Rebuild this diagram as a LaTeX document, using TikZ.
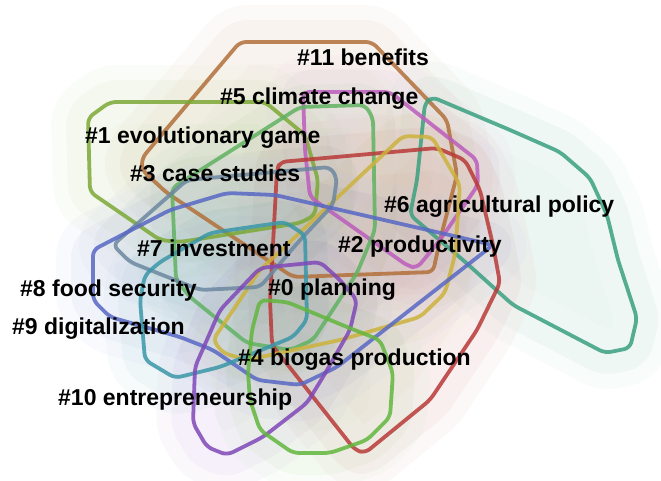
\documentclass[tikz,border=0pt]{standalone}
\usepackage{fontspec}
\setmainfont{Liberation Sans}
\usetikzlibrary{backgrounds}

% cluster colours
\definecolor{cBrown}{RGB}{178,112,58}
\definecolor{cOlive}{RGB}{124,168,54}
\definecolor{cGreen}{RGB}{96,178,98}
\definecolor{cMagenta}{RGB}{188,92,188}
\definecolor{cTeal}{RGB}{58,160,128}
\definecolor{cRed}{RGB}{184,58,56}
\definecolor{cYellow}{RGB}{204,178,60}
\definecolor{cSlate}{RGB}{108,136,160}
\definecolor{cBlue}{RGB}{88,104,196}
\definecolor{cCyan}{RGB}{58,150,168}
\definecolor{cPurple}{RGB}{128,72,184}
\definecolor{cLeaf}{RGB}{98,182,62}

\tikzset{
	hull/.style={draw=#1, line width=3.8pt, rounded corners=6pt, line join=round, draw opacity=0.85},
	halo/.style={draw=#1!35!white, fill=#1, line width=74pt, rounded corners=7pt, line join=round},
	core/.style={draw=#1!80!white, fill=#1, line width=44pt, rounded corners=7pt, line join=round},
	lbl/.style={font=\bfseries\fontsize{23}{23}\selectfont, anchor=base west, inner sep=0pt, text=black},
	% outlines of the clusters
	h0/.style={insert path={(403,136) -- (432,137) -- (460,185) -- (455,255) -- (445,293) -- (420,317) -- (340,340) -- (247,360) -- (223,353) -- (213,340) -- (260,270) -- cycle}},
	h1/.style={insert path={(110,102) -- (265,102) -- (305,135) -- (318,180) -- (315,215) -- (300,223) -- (180,242) -- (160,240) -- (90,192) -- (88,118) -- cycle}},
	h2/.style={insert path={(280,162) -- (437,148) -- (465,160) -- (480,190) -- (493,245) -- (500,283) -- (477,330) -- (430,400) -- (365,453) -- (355,450) -- (272,345) -- (270,300) -- (277,170) -- cycle}},
	h3/.style={insert path={(187,180) -- (330,167) -- (337,178) -- (333,205) -- (300,240) -- (260,287) -- (200,290) -- (130,262) -- (113,245) -- cycle}},
	h4/.style={insert path={(260,300) -- (287,302) -- (347,327) -- (380,340) -- (393,373) -- (390,417) -- (367,440) -- (330,453) -- (293,453) -- (260,430) -- (250,400) -- (248,373) -- (252,330) -- cycle}},
	h5/.style={insert path={(172,188) -- (300,107) -- (365,105) -- (373,118) -- (375,230) -- (357,273) -- (313,340) -- (290,350) -- (247,343) -- (190,297) -- (176,280) -- cycle}},
	h6/.style={insert path={(432,97) -- (510,130) -- (560,152) -- (590,178) -- (607,215) -- (618,260) -- (637,318) -- (630,348) -- (605,353) -- (513,305) -- (463,260) -- (410,215) -- (417,180) -- (425,103) -- cycle}},
	h7/.style={insert path={(303,92) -- (390,92) -- (477,160) -- (478,185) -- (440,240) -- (417,268) -- (408,266) -- (310,197) -- (305,150) -- cycle}},
	h8/.style={insert path={(93,250) -- (170,210) -- (227,193) -- (275,195) -- (493,245) -- (337,367) -- (300,385) -- (257,380) -- (213,350) -- (180,337) -- (110,317) -- (93,300) -- cycle}},
	h9/.style={insert path={(160,262) -- (210,233) -- (285,222) -- (305,235) -- (307,320) -- (293,337) -- (220,367) -- (175,378) -- (145,360) -- (140,300) -- (145,275) -- cycle}},
	h10/.style={insert path={(260,268) -- (320,262) -- (340,280) -- (357,300) -- (350,330) -- (323,377) -- (307,403) -- (263,437) -- (227,455) -- (207,447) -- (193,423) -- (195,367) -- (220,310) -- cycle}},
	h11/.style={insert path={(240,42) -- (372,42) -- (447,120) -- (457,175) -- (440,240) -- (433,272) -- (293,277) -- (167,193) -- (142,170) -- (142,158) -- cycle}}
}

\begin{document}
\begin{tikzpicture}[x=1pt,y=-1pt]
	\useasboundingbox (0,0) rectangle (661,481);

	% soft areas behind the outlines
	\foreach \h/\c in {h11/cBrown,h1/cOlive,h6/cTeal,h7/cMagenta,h2/cRed,h5/cGreen,h0/cYellow,h3/cSlate,h8/cBlue,h9/cCyan,h10/cPurple,h4/cLeaf}{
		\begin{scope}[transparency group, opacity=0.10]
			\path[halo=\c, \h];
			\path[core=\c, \h];
		\end{scope}
	}

	% outlines
	\draw[hull=cBrown, h11];
	\draw[hull=cOlive, h1];
	\draw[hull=cTeal, h6];
	\draw[hull=cMagenta, h7];
	\draw[hull=cGreen, h5];
	\draw[hull=cRed, h2];
	\draw[hull=cYellow, h0];
	\draw[hull=cSlate, h3];
	\draw[hull=cBlue, h8];
	\draw[hull=cCyan, h9];
	\draw[hull=cPurple, h10];
	\draw[hull=cLeaf, h4];

	% cluster labels
	\node[lbl] (benefits) at (297,66) {\#11 benefits};
	\node[lbl] (climate) at (220,105) {\#5 climate change};
	\node[lbl] (game) at (85,144) {\#1 evolutionary game};
	\node[lbl] (cases) at (130,182) {\#3 case studies};
	\node[lbl] (policy) at (384,213) {\#6 agricultural policy};
	\node[lbl] (productivity) at (338,252) {\#2 productivity};
	\node[lbl] (investment) at (137,256) {\#7 investment};
	\node[lbl] (food) at (20,296) {\#8 food security};
	\node[lbl] (planning) at (268,295) {\#0 planning};
	\node[lbl] (digital) at (12,334) {\#9 digitalization};
	\node[lbl] (biogas) at (238,365) {\#4 biogas production};
	\node[lbl] (entre) at (58,405) {\#10 entrepreneurship};
\end{tikzpicture}
\end{document}
